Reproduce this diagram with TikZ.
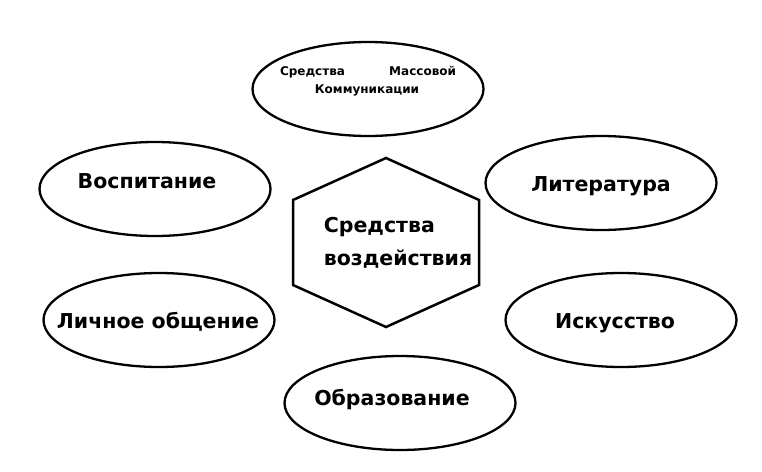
\documentclass[tikz,border=0pt]{standalone}
\usepackage{fontspec}
\setmainfont{DejaVu Sans}
\usetikzlibrary{shapes.geometric}
% text inside an oval: x offset (doubled), raise, text
\newcommand{\ovtext}[3]{\makebox[100pt]{\raisebox{#2}[15pt][0pt]{\hspace*{#1}#3}}}

\begin{document}
\begin{tikzpicture}[
    x=1pt,y=-1pt,
    oval/.style={ellipse,draw,line width=2.3pt,minimum width=231pt,minimum height=94pt,inner sep=0pt,
      font=\bfseries\fontsize{20.5}{24}\selectfont},
    hexlbl/.style={align=left,inner sep=0pt,font=\bfseries\fontsize{20.5}{33}\selectfont},
  ]
  \useasboundingbox (0,0) rectangle (762,471);
  % Ellipses around the centre
  \node[oval,font=\bfseries\fontsize{12}{18}\selectfont] (smk) at (368,89)
    {\ovtext{0pt}{13pt}{\begin{tabular}{@{}c@{}}\makebox[176pt]{Средства\hfill Массовой}\\\hspace*{-2pt}Коммуникации\end{tabular}}};
  \node[oval] (vosp) at (155,189) {\ovtext{-16pt}{8pt}{Воспитание}};
  \node[oval] (lit) at (601,183) {\ovtext{0pt}{-1pt}{Литература}};
  \node[oval] (lich) at (159,320) {\ovtext{-2pt}{-1pt}{Личное общение}};
  \node[oval] (isk) at (621,320) {\ovtext{-12pt}{-1pt}{Искусство}};
  \node[oval] (obr) at (400,403) {\ovtext{-16pt}{5pt}{Образование}};
  % Central hexagon
  \node[hexlbl] (sred) at (398,243) {Средства\\воздействия};
  \draw[line width=2.5pt,line join=miter]
    (386,158) -- (479,200) -- (479,285) -- (386,327) -- (293,285) -- (293,200) -- cycle;
\end{tikzpicture}
\end{document}
